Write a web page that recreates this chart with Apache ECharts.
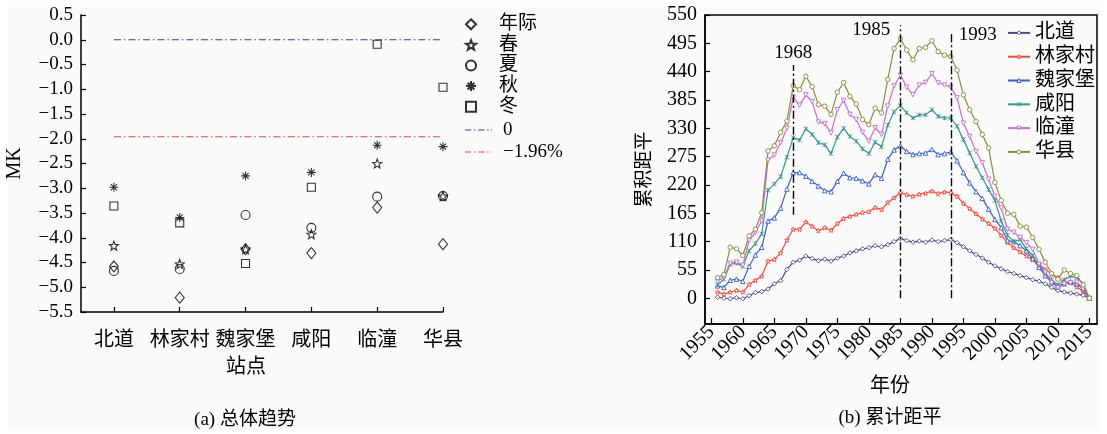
<!DOCTYPE html>
<html><head><meta charset="utf-8">
<script src="https://cdn.jsdelivr.net/npm/echarts@6/dist/echarts.min.js"></script>
<style>html,body{margin:0;padding:0;background:#fff}#c{width:1107px;height:434px}</style>
</head><body><div id="c"></div>
<script>
// ---------- (a) 总体趋势 ----------
const stations = ['北道', '林家村', '魏家堡', '咸阳', '临潼', '华县'];
const stationPos = [1, 2, 3, 4, 5, 6];
const mkAnnual = [-4.58, -5.21, -4.23, -4.31, -3.39, -4.13];
const mkSpring = [-4.16, -4.53, -4.23, -3.93, -2.50, -3.16];
const mkSummer = [-4.67, -4.63, -3.54, -3.80, -3.17, -3.16];
const mkAutumn = [-2.98, -3.59, -2.75, -2.68, -2.13, -2.16];
const mkWinter = [-3.36, -3.70, -4.52, -2.98, -0.09, -0.96];
const refZero = 0;
const refSig = -1.96;

// ---------- (b) 累计距平 ----------
const years = [1956,1957,1958,1959,1960,1961,1962,1963,1964,1965,
  1966,1967,1968,1969,1970,1971,1972,1973,1974,1975,
  1976,1977,1978,1979,1980,1981,1982,1983,1984,1985,
  1986,1987,1988,1989,1990,1991,1992,1993,1994,1995,
  1996,1997,1998,1999,2000,2001,2002,2003,2004,2005,
  2006,2007,2008,2009,2010,2011,2012,2013,2014,2015];
const beidao = [2,0,-1,1,-1,5,11,13,18,28, 34,56,70,74,82,77,73,76,72,78,
  82,88,92,96,98,102,100,104,110,116, 112,109,111,109,113,110,112,114,108,100,
  92,85,78,70,63,57,52,48,44,40, 36,33,28,21,15,12,10,8,6,0];
const linjiacun = [12,8,12,15,12,27,35,43,72,75, 88,113,134,134,148,140,131,137,132,145,
  155,159,163,166,168,176,172,186,195,205, 201,198,202,204,208,203,206,205,198,184,
  174,164,154,145,136,122,108,98,90,82, 75,66,56,47,40,32,30,22,14,0];
const weijiabao = [24,21,35,37,33,62,84,99,150,156, 175,212,244,244,237,227,218,209,207,227,
  243,234,233,228,222,240,233,270,288,296, 285,279,281,282,289,279,281,284,267,244,
  224,207,194,173,153,137,112,110,102,92, 77,60,44,31,24,28,32,28,18,0];
const xianyang = [26,37,66,68,62,92,106,125,210,222, 236,274,312,307,329,318,302,298,281,313,
  330,314,305,290,281,303,294,336,362,374, 360,350,356,356,366,353,350,350,334,308,
  282,256,234,211,190,150,122,110,114,96, 83,64,48,36,26,36,43,40,28,0];
const lintong = [33,41,68,70,64,112,128,150,268,278, 302,330,390,375,395,382,342,339,321,366,
  384,357,347,322,305,331,318,373,412,433, 410,395,414,419,436,418,414,410,389,340,
  314,285,263,231,198,175,134,128,118,108, 95,66,50,30,20,28,30,31,18,0];
const huaxian = [40,46,99,96,83,121,134,166,286,296, 322,344,413,405,431,411,376,373,357,400,
  419,392,377,347,337,369,360,425,485,504, 482,463,485,487,500,479,472,469,443,395,
  366,343,318,292,225,190,165,163,140,138, 118,95,70,48,37,55,48,44,26,0];
const markYears = [1968, 1985, 1993];
const markLow = [162, 0, 0];
const markHigh = [453, 530, 515];
const xTicksB = [1955,1960,1965,1970,1975,1980,1985,1990,1995,2000,2005,2010,2015];
const yTicksB = [0,55,110,165,220,275,330,385,440,495,550];

const FONT = "'Liberation Serif','Noto Sans CJK SC',serif";
const minus = v => (v < 0 ? '\u2212' : '') + Math.abs(v).toFixed(1);

const starPath = 'path://M5,0L6.234,3.301L9.755,3.455L6.997,5.649L7.939,9.045L5,7.1L2.061,9.045L3.003,5.649L0.245,3.455L3.766,3.301Z';
const astPath = 'path://M0,5L10,5M5,0L5,10M1.6,1.6L8.4,8.4M8.4,1.6L1.6,8.4';
const xPath = 'path://M0,0L10,10M10,0L0,10M5,0L5,10';
const dashDotIcon = 'path://M0,0h7v1.3h-7zM10,0h1.6v1.3h-1.6zM14.6,0h7v1.3h-7zM24.6,0h1.6v1.3h-1.6zM29.2,0h0.8v1.3h-0.8z';

const hollow = {color: 'rgba(0,0,0,0)', borderColor: '#000', borderWidth: 1.1};
function sc(name, arr, symbol, size) {
  return {name, type: 'scatter', xAxisIndex: 0, yAxisIndex: 0, symbol, symbolSize: size,
    itemStyle: hollow, data: stationPos.map((p, i) => [p, arr[i]])};
}
function refLine(name, v, color) {
  return {name, type: 'line', xAxisIndex: 0, yAxisIndex: 0, symbol: 'none',
    lineStyle: {color, width: 1.2, type: [7, 3, 1.5, 3]}, itemStyle: {color},
    data: [[stationPos[0], v], [stationPos[stationPos.length - 1], v]]};
}
function ln(name, arr, color, symbol, rot) {
  return {name, type: 'line', xAxisIndex: 1, yAxisIndex: 1, symbol, symbolSize: 4.5, symbolRotate: rot || 0,
    showAllSymbol: true,
    lineStyle: {color, width: 1.2}, itemStyle: {color: '#fbfbfb', borderColor: color, borderWidth: 0.9},
    data: years.map((y, i) => [y, arr[i]])};
}

const bdSeries = ln('北道', beidao, '#4a4a86', 'diamond');
bdSeries.markLine = {
  silent: true, symbol: ['none', 'none'], animation: false,
  lineStyle: {color: '#000', width: 1.4, type: [8, 3, 2, 3]}, label: {show: false},
  data: markYears.map((y, i) => [{coord: [y, markLow[i]]}, {coord: [y, markHigh[i]]}])
};
bdSeries.markPoint = {
  silent: true, symbol: 'circle', symbolSize: 1, itemStyle: {color: 'rgba(0,0,0,0)'},
  label: {show: true, color: '#000', fontFamily: FONT, fontSize: 19, position: 'inside'},
  data: [
    {coord: [markYears[0], 476], label: {formatter: String(markYears[0])}},
    {coord: [markYears[1], 521], label: {formatter: String(markYears[1]), offset: [-29, 0]}},
    {coord: [markYears[2], 511], label: {formatter: String(markYears[2]), offset: [27, 0]}}
  ]
};

const chart = echarts.init(document.getElementById('c'), null, {renderer: 'canvas'});
chart.setOption({
  animation: false,
  textStyle: {fontFamily: FONT, color: '#000'},
  graphic: [
    {type: 'rect', z: -10, silent: true, shape: {x: 8, y: 7, width: 1092, height: 423}, style: {fill: '#fafafa'}},
    {type: 'text', x: 245, y: 420, style: {text: '(a) 总体趋势', font: "19px " + FONT, fill: '#000', textAlign: 'center', textVerticalAlign: 'middle'}},
    {type: 'text', x: 890, y: 418, style: {text: '(b) 累计距平', font: "19px " + FONT, fill: '#000', textAlign: 'center', textVerticalAlign: 'middle'}}
  ],
  grid: [
    {left: 81, top: 15, width: 362, height: 297},
    {left: 705, top: 15, width: 392, height: 309, show: true, borderColor: '#000', borderWidth: 1.5, backgroundColor: 'rgba(0,0,0,0)'}
  ],
  legend: [
    {data: ['年际', '春', '夏', '秋', '冬'], orient: 'vertical', left: 460, top: 9, itemWidth: 10, itemHeight: 10, itemGap: 0,
      textStyle: {fontFamily: FONT, fontSize: 19, lineHeight: 20.6, color: '#000', padding: [0, 0, 0, 18]}},
    {data: [{name: '0', icon: dashDotIcon}, {name: '\u22121.96%', icon: dashDotIcon}], orient: 'vertical', left: 460, top: 114,
      itemWidth: 27, itemHeight: 10, itemGap: 0,
      textStyle: {fontFamily: FONT, fontSize: 19, lineHeight: 22, color: '#000', padding: [0, 0, 0, 6]}},
    {data: ['北道', '林家村', '魏家堡', '咸阳', '临潼', '华县'], orient: 'vertical', left: 1002, top: 16, itemWidth: 22, itemHeight: 5, itemGap: 0,
      itemStyle: {color: '#fbfbfb', borderWidth: 0.9},
      textStyle: {fontFamily: FONT, fontSize: 20, lineHeight: 23.8, color: '#000'}}
  ],
  xAxis: [
    {gridIndex: 0, type: 'value', min: 0.5, max: 6,
      name: '站点', nameLocation: 'middle', nameGap: 46,
      nameTextStyle: {fontFamily: FONT, fontSize: 20, color: '#000', padding: [0, 32, 0, 0]},
      axisLine: {onZero: false, lineStyle: {color: '#000', width: 1.5}},
      axisTick: {inside: true, length: 5, customValues: stationPos, lineStyle: {color: '#000', width: 1.2}},
      axisLabel: {customValues: stationPos, formatter: v => stations[Math.round(v) - 1], fontFamily: FONT, fontSize: 20, color: '#000', margin: 19},
      splitLine: {show: false}},
    {gridIndex: 1, type: 'value', min: 1954, max: 2016.2,
      name: '年份', nameLocation: 'middle', nameGap: 53,
      nameTextStyle: {fontFamily: FONT, fontSize: 20, color: '#000', padding: [0, 22, 0, 0]},
      axisLine: {onZero: false, lineStyle: {color: '#000', width: 1.5}},
      axisTick: {inside: true, length: 6, customValues: xTicksB, lineStyle: {color: '#000', width: 1.2}},
      axisLabel: {customValues: xTicksB, formatter: v => String(v), rotate: 45, fontFamily: FONT, fontSize: 20, color: '#000', margin: 5},
      splitLine: {show: false}}
  ],
  yAxis: [
    {gridIndex: 0, type: 'value', min: -5.5, max: 0.5, interval: 0.5,
      name: 'MK', nameLocation: 'middle', nameGap: 56,
      nameTextStyle: {fontFamily: FONT, fontSize: 20, color: '#000'},
      axisLine: {show: true, onZero: false, lineStyle: {color: '#000', width: 1.5}},
      axisTick: {show: true, inside: true, length: 5, lineStyle: {color: '#000', width: 1.2}},
      axisLabel: {formatter: minus, fontFamily: FONT, fontSize: 19, color: '#000', margin: 8},
      splitLine: {show: false}},
    {gridIndex: 1, type: 'value', min: -50, max: 550,
      name: '累积距平', nameLocation: 'middle', nameGap: 50,
      nameTextStyle: {fontFamily: FONT, fontSize: 19, color: '#000'},
      axisLine: {show: true, onZero: false, lineStyle: {color: '#000', width: 1.5}},
      axisTick: {show: true, inside: true, length: 5, customValues: yTicksB, lineStyle: {color: '#000', width: 1.2}},
      axisLabel: {customValues: yTicksB, formatter: v => String(v), fontFamily: FONT, fontSize: 20, color: '#000', margin: 8},
      splitLine: {show: false}}
  ],
  series: [
    sc('年际', mkAnnual, 'diamond', [9, 11]),
    sc('春', mkSpring, starPath, 9),
    sc('夏', mkSummer, 'circle', 9),
    sc('秋', mkAutumn, astPath, 9),
    sc('冬', mkWinter, 'rect', 8),
    refLine('0', refZero, '#3b3b9c'),
    refLine('\u22121.96%', refSig, '#e04848'),
    bdSeries,
    ln('林家村', linjiacun, '#f04b3c', starPath),
    ln('魏家堡', weijiabao, '#3d5fbf', 'triangle'),
    ln('咸阳', xianyang, '#3c9488', xPath),
    ln('临潼', lintong, '#c46fd0', 'triangle', 180),
    ln('华县', huaxian, '#8a8a42', 'circle')
  ]
});
</script></body></html>
